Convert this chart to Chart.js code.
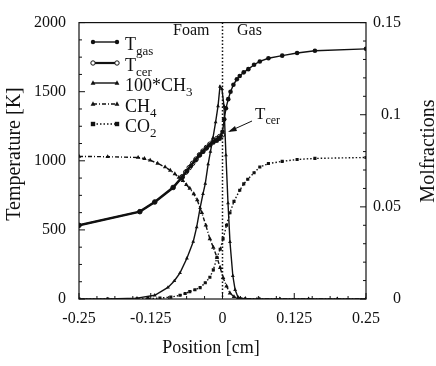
<!DOCTYPE html>
<html>
<head>
<meta charset="utf-8">
<script src="https://cdn.jsdelivr.net/npm/chart.js@4.4.0/dist/chart.umd.min.js"></script>
<style>
  body { margin: 0; background: #fff; }
  canvas { display: block; }
</style>
</head>
<body>
<canvas id="chart" width="436" height="366"></canvas>
<script>
// graduations des axes
const xTicks = [-0.25, -0.125, 0, 0.125, 0.25];
const tempTicks = [0, 500, 1000, 1500, 2000];
const molTicks = [0, 0.05, 0.1, 0.15];

// température du gaz [K]
const tgasPos = [-0.25, -0.144, -0.118, -0.086, -0.07, -0.062, -0.055, -0.047, -0.04, -0.034, -0.028, -0.022, -0.016, -0.01, -0.005, 0, 0.003, 0.006, 0.01, 0.014, 0.019, 0.025, 0.03, 0.037, 0.045, 0.055, 0.065, 0.08, 0.104, 0.13, 0.161, 0.25];
const tgasVal = [533, 632, 702, 807, 880, 925, 962, 1004, 1040, 1065, 1090, 1112, 1132, 1145, 1160, 1210, 1300, 1380, 1446, 1500, 1550, 1590, 1614, 1640, 1663, 1695, 1719, 1742, 1761, 1780, 1796, 1810];

// température de la céramique [K] (seulement dans la mousse)
const tcerPos = [-0.25, -0.144, -0.118, -0.086, -0.07, -0.064, -0.058, -0.052, -0.046, -0.04, -0.034, -0.028, -0.022, -0.016, -0.01, -0.005, 0];
const tcerVal = [533, 632, 702, 807, 885, 918, 950, 982, 1012, 1043, 1070, 1096, 1120, 1142, 1160, 1175, 1188];

// 100*CH3 (fraction molaire)
const ch3Pos = [-0.25, -0.2, -0.149, -0.118, -0.095, -0.084, -0.074, -0.062, -0.051, -0.045, -0.039, -0.034, -0.03, -0.025, -0.021, -0.0166, -0.012, -0.0078, -0.0044, -0.001, 0.0026, 0.006, 0.0096, 0.013, 0.018, 0.022, 0.027, 0.039, 0.06, 0.1, 0.15, 0.2, 0.25];
const ch3Val = [0, 0, 0.0005, 0.002, 0.0063, 0.0098, 0.0142, 0.0221, 0.0311, 0.039, 0.0495, 0.057, 0.0626, 0.0732, 0.08, 0.0874, 0.096, 0.1047, 0.1153, 0.114, 0.1047, 0.078, 0.052, 0.031, 0.0126, 0.005, 0.001, 0, 0, 0, 0, 0, 0];

// CH4
const ch4Pos = [-0.25, -0.2, -0.147, -0.136, -0.126, -0.113, -0.1, -0.091, -0.083, -0.076, -0.069, -0.063, -0.057, -0.05, -0.044, -0.036, -0.029, -0.022, -0.016, -0.0096, -0.004, 0.001, 0.007, 0.013, 0.02, 0.027, 0.04, 0.065, 0.1, 0.15, 0.2, 0.25];
const ch4Val = [0.0774, 0.0772, 0.0768, 0.0762, 0.0753, 0.0736, 0.0716, 0.0698, 0.0679, 0.066, 0.0642, 0.062, 0.06, 0.057, 0.0537, 0.0468, 0.04, 0.0326, 0.028, 0.0225, 0.017, 0.0116, 0.007, 0.0032, 0.0012, 0.0005, 0.0002, 0, 0, 0, 0, 0];

// CO2
const co2Pos = [-0.25, -0.2, -0.149, -0.13, -0.109, -0.09, -0.074, -0.065, -0.057, -0.048, -0.039, -0.03, -0.022, -0.016, -0.0096, -0.004, 0.001, 0.007, 0.013, 0.02, 0.03, 0.037, 0.044, 0.055, 0.065, 0.08, 0.104, 0.13, 0.161, 0.25];
const co2Val = [0, 0, 0, 0.0002, 0.0005, 0.001, 0.002, 0.003, 0.004, 0.005, 0.0062, 0.0088, 0.0118, 0.0158, 0.0225, 0.027, 0.0326, 0.04, 0.0468, 0.053, 0.059, 0.0625, 0.065, 0.0685, 0.0716, 0.0735, 0.0747, 0.0757, 0.0763, 0.0768];

const ink = '#111';
const serif = '"Liberation Serif", "DejaVu Serif", serif';

function points(pos, val) {
  return pos.map((x, i) => ({ x, y: val[i] }));
}

// entrées de la légende (texte + indice)
const legendItems = [
  { main: 'T', sub: 'gas', style: 'circle', fill: true, dash: [], width: 1.4 },
  { main: 'T', sub: 'cer', style: 'circle', fill: false, dash: [], width: 2.2 },
  { main: '100*CH', sub: '3', style: 'triangle', fill: true, dash: [], width: 1.4 },
  { main: 'CH', sub: '4', style: 'triangle', fill: true, dash: [4, 2, 1, 2], width: 1.4 },
  { main: 'CO', sub: '2', style: 'rect', fill: true, dash: [1.5, 2], width: 1.4 },
];

function marker(ctx, style, x, y, r, fill) {
  ctx.beginPath();
  if (style === 'circle') {
    ctx.arc(x, y, r, 0, Math.PI * 2);
  } else if (style === 'triangle') {
    ctx.moveTo(x, y - r * 1.2);
    ctx.lineTo(x + r * 1.1, y + r * 0.8);
    ctx.lineTo(x - r * 1.1, y + r * 0.8);
    ctx.closePath();
  } else {
    ctx.rect(x - r, y - r, 2 * r, 2 * r);
  }
  ctx.setLineDash([]);
  if (fill) {
    ctx.fillStyle = ink;
    ctx.fill();
  } else {
    ctx.fillStyle = '#fff';
    ctx.fill();
    ctx.lineWidth = 1;
    ctx.stroke();
  }
}

function subText(ctx, x, y, main, sub, size) {
  ctx.font = size + 'px ' + serif;
  ctx.fillText(main, x, y);
  const w = ctx.measureText(main).width;
  ctx.font = Math.round(size * 0.72) + 'px ' + serif;
  ctx.fillText(sub, x + w, y + size * 0.28);
}

// cadre, graduations intérieures, légende et textes
const decor = {
  id: 'decor',
  afterDraw(chart) {
    const { ctx, chartArea: a, scales } = chart;
    const sx = scales.x;
    const sy = scales.y;
    const sy1 = scales.y1;
    ctx.save();
    ctx.strokeStyle = ink;
    ctx.fillStyle = ink;
    ctx.lineWidth = 1.2;
    ctx.strokeRect(a.left, a.top, a.right - a.left, a.bottom - a.top);

    ctx.lineWidth = 1;
    ctx.beginPath();
    for (let k = 0; k <= 16; k++) {
      const x = sx.getPixelForValue(-0.25 + k * 0.03125);
      const len = k % 4 === 0 ? 6 : 3;
      ctx.moveTo(x, a.bottom);
      ctx.lineTo(x, a.bottom - len);
    }
    for (let k = 0; k <= 16; k++) {
      const y = sy.getPixelForValue(k * 125);
      const len = k % 4 === 0 ? 6 : 3;
      ctx.moveTo(a.left, y);
      ctx.lineTo(a.left + len, y);
    }
    for (let k = 0; k <= 15; k++) {
      const y = sy1.getPixelForValue(k * 0.01);
      const len = k % 5 === 0 ? 6 : 3;
      ctx.moveTo(a.right, y);
      ctx.lineTo(a.right - len, y);
    }
    ctx.stroke();

    // séparation mousse / gaz
    const x0 = sx.getPixelForValue(0);
    ctx.setLineDash([1.5, 2]);
    ctx.lineWidth = 1.5;
    ctx.beginPath();
    ctx.moveTo(x0, a.top);
    ctx.lineTo(x0, a.bottom);
    ctx.stroke();
    ctx.setLineDash([]);

    ctx.font = '16px ' + serif;
    ctx.textAlign = 'left';
    ctx.textBaseline = 'alphabetic';
    ctx.fillText('Foam', 173, 35);
    ctx.fillText('Gas', 237, 35);

    // légende
    legendItems.forEach((it, i) => {
      const y = [42, 63, 83, 104, 124][i];
      ctx.strokeStyle = ink;
      ctx.lineWidth = it.width;
      ctx.setLineDash(it.dash);
      ctx.beginPath();
      ctx.moveTo(93, y);
      ctx.lineTo(117, y);
      ctx.stroke();
      marker(ctx, it.style, 93, y, 2.2, it.fill);
      marker(ctx, it.style, 117, y, 2.2, it.fill);
      ctx.fillStyle = ink;
      subText(ctx, 125, y + 7.5, it.main, it.sub, 18);
    });

    // annotation Tcer
    ctx.fillStyle = ink;
    subText(ctx, 255, 119, 'T', 'cer', 17);
    ctx.lineWidth = 1;
    ctx.beginPath();
    ctx.moveTo(252, 121);
    ctx.lineTo(230, 131);
    ctx.stroke();
    ctx.beginPath();
    ctx.moveTo(228, 132);
    ctx.lineTo(235, 126);
    ctx.lineTo(237, 131);
    ctx.closePath();
    ctx.fill();

    // titres des axes
    ctx.font = '18px ' + serif;
    ctx.textAlign = 'center';
    ctx.fillText('Position [cm]', 211, 353);
    ctx.font = '20px ' + serif;
    ctx.save();
    ctx.translate(20, 154);
    ctx.rotate(-Math.PI / 2);
    ctx.fillText('Temperature [K]', 0, 0);
    ctx.restore();
    ctx.save();
    ctx.translate(434, 151);
    ctx.rotate(-Math.PI / 2);
    ctx.fillText('Molfractions', 0, 0);
    ctx.restore();
    ctx.restore();
  },
};

const tickFont = { family: serif, size: 16 };

new Chart(document.getElementById('chart'), {
  type: 'line',
  data: {
    datasets: [
      {
        label: 'Tgas', data: points(tgasPos, tgasVal), yAxisID: 'y',
        borderColor: ink, borderWidth: 1.4, pointStyle: 'circle', pointRadius: 2.3,
        pointBackgroundColor: ink, pointBorderColor: ink, pointBorderWidth: 0,
      },
      {
        label: 'Tcer', data: points(tcerPos, tcerVal), yAxisID: 'y',
        borderColor: ink, borderWidth: 2.5, pointStyle: 'circle', pointRadius: 2.3,
        pointBackgroundColor: 'rgba(0,0,0,0)', pointBorderColor: ink, pointBorderWidth: 1,
      },
      {
        label: '100*CH3', data: points(ch3Pos, ch3Val), yAxisID: 'y1',
        borderColor: ink, borderWidth: 1.4, pointStyle: 'triangle', pointRadius: 2.2,
        pointBackgroundColor: ink, pointBorderColor: ink, pointBorderWidth: 0,
      },
      {
        label: 'CH4', data: points(ch4Pos, ch4Val), yAxisID: 'y1',
        borderColor: ink, borderWidth: 1.4, borderDash: [4, 2, 1, 2], pointStyle: 'triangle', pointRadius: 2.6,
        pointBackgroundColor: ink, pointBorderColor: ink, pointBorderWidth: 0,
      },
      {
        label: 'CO2', data: points(co2Pos, co2Val), yAxisID: 'y1',
        borderColor: ink, borderWidth: 1.4, borderDash: [1.5, 2], pointStyle: 'rect', pointRadius: 2.2,
        pointBackgroundColor: ink, pointBorderColor: ink, pointBorderWidth: 0,
      },
    ],
  },
  options: {
    responsive: false,
    devicePixelRatio: 1,
    animation: false,
    layout: { padding: { top: 14, right: 35, left: 0, bottom: 0 } },
    plugins: { legend: { display: false }, tooltip: { enabled: false } },
    elements: { line: { tension: 0, fill: false } },
    scales: {
      x: {
        type: 'linear', min: -0.25, max: 0.25,
        grid: { display: false, drawTicks: false }, border: { display: false },
        afterBuildTicks: (s) => { s.ticks = xTicks.map((v) => ({ value: v })); },
        afterFit: (s) => { s.height = 67; },
        ticks: { font: tickFont, color: ink, padding: 10, maxRotation: 0, callback: (v) => String(v) },
      },
      y: {
        type: 'linear', position: 'left', min: 0, max: 2000,
        grid: { display: false, drawTicks: false }, border: { display: false },
        afterBuildTicks: (s) => { s.ticks = tempTicks.map((v) => ({ value: v })); },
        afterFit: (s) => { s.width = 79; },
        ticks: { font: tickFont, color: ink, padding: 13, callback: (v) => String(v) },
      },
      y1: {
        type: 'linear', position: 'right', min: 0, max: 0.15,
        grid: { display: false, drawTicks: false }, border: { display: false },
        afterBuildTicks: (s) => { s.ticks = molTicks.map((v) => ({ value: v })); },
        afterFit: (s) => { s.width = 35; },
        ticks: { font: tickFont, color: ink, padding: 9, crossAlign: 'far', callback: (v) => String(v) },
      },
    },
  },
  plugins: [decor],
});
</script>
</body>
</html>
